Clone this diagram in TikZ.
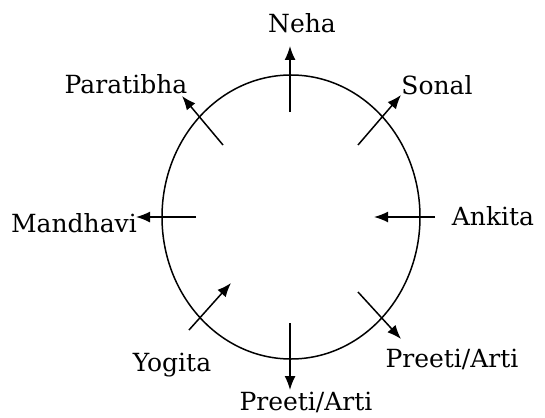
\documentclass[tikz,border=0pt]{standalone}
\usepackage{fontspec}
\setmainfont{DejaVu Serif}
\usetikzlibrary{arrows.meta}

\begin{document}
\begin{tikzpicture}[>={Latex[length=7pt, width=5.5pt]}, x=0.5pt, y=-0.5pt, line width=0.75pt,
    person/.style={anchor=base, font=\fontsize{12.5}{14}\selectfont}]
    \useasboundingbox (0,0) rectangle (545,417);

    % 1. The round table
    \draw (291,217) ellipse [x radius=64.5pt, y radius=71pt];

    % 2. Ends of the facing arrows
    \coordinate (nehaS) at (290,112);  \coordinate (nehaT) at (290,46);
    \coordinate (sonS)  at (358,145);  \coordinate (sonT)  at (401,95);
    \coordinate (ankS)  at (435,217);  \coordinate (ankT)  at (374,217);
    \coordinate (preS)  at (358,292);  \coordinate (preT)  at (401,339);
    \coordinate (botS)  at (290,323);  \coordinate (botT)  at (290,390);
    \coordinate (yogS)  at (189,330);  \coordinate (yogT)  at (231,283);
    \coordinate (manS)  at (196,217);  \coordinate (manT)  at (136,217);
    \coordinate (parS)  at (223,145);  \coordinate (parT)  at (182,96);

    % 3. Arrows (direction each person faces)
    \draw[->] (nehaS) -- (nehaT);
    \draw[->] (sonS) -- (sonT);
    \draw[->] (ankS) -- (ankT);
    \draw[->] (preS) -- (preT);
    \draw[->] (botS) -- (botT);
    \draw[->] (yogS) -- (yogT);
    \draw[->] (manS) -- (manT);
    \draw[->] (parS) -- (parT);

    % 4. Names round the table
    \node[person] (neha) at (302,33)  {Neha};
    \node[person] (sonal) at (437,95) {Sonal};
    \node[person] (ankita) at (493,225) {Ankita};
    \node[person] (preetiR) at (452,367) {Preeti/Arti};
    \node[person] (preetiB) at (306,410) {Preeti/Arti};
    \node[person] (yogita) at (172,371) {Yogita};
    \node[person] (mandhavi) at (74,232) {Mandhavi};
    \node[person] (paratibha) at (126,93) {Paratibha};
\end{tikzpicture}
\end{document}
